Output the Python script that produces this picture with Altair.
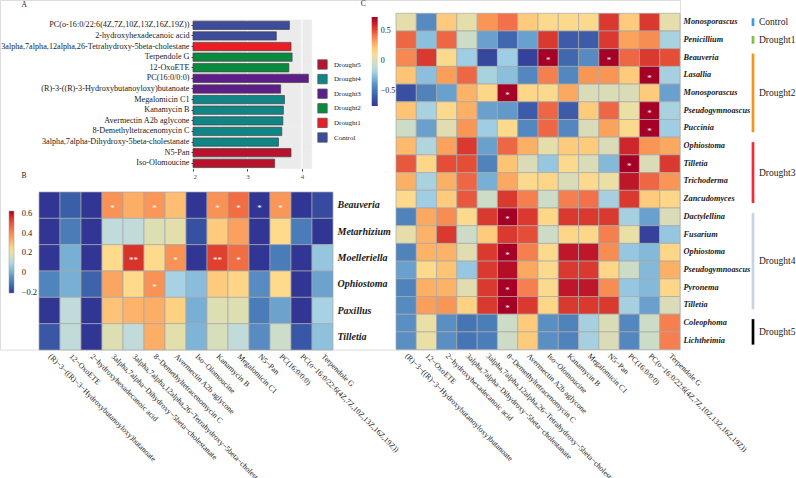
import json
import altair as alt
import pandas as pd

FONT = "Liberation Serif"

# ---------------- Panel A : LDA scores ----------------
a_features = [
    "PC(o-16:0/22:6(4Z,7Z,10Z,13Z,16Z,19Z))",
    "2-hydroxyhexadecanoic acid",
    "3alpha,7alpha,12alpha,26-Tetrahydroxy-5beta-cholestane",
    "Terpendole G",
    "12-OxoETE",
    "PC(16:0/0:0)",
    "(R)-3-((R)-3-Hydroxybutanoyloxy)butanoate",
    "Megalomicin C1",
    "Kanamycin B",
    "Avermectin A2b aglycone",
    "8-Demethyltetracenomycin C",
    "3alpha,7alpha-Dihydroxy-5beta-cholestanate",
    "N5-Pan",
    "Iso-Olomoucine",
]
a_lda = [3.77, 3.53, 3.80, 3.82, 3.76, 4.12, 3.61, 3.68, 3.66, 3.65, 3.63, 3.57, 3.80, 3.50]
a_group = ["Control", "Control", "Drought1", "Drought2", "Drought2", "Drought3", "Drought3",
           "Drought4", "Drought4", "Drought4", "Drought4", "Drought4", "Drought5", "Drought5"]
a_legend_groups = ["Drought5", "Drought4", "Drought3", "Drought2", "Drought1", "Control"]
a_legend_colors = ["#B8122E", "#0F8585", "#5E1E87", "#0A8A3F", "#EE1C25", "#3C4C9A"]
a_ticks = [2, 3, 4]
a_major_grid = [3, 4]
a_minor_grid = [2.5, 3.5]
a_domain = [2.0, 4.18]

# ---------------- metabolites (heatmap columns) ----------------
metabolites = [
    "(R)-3-((R)-3-Hydroxybutanoyloxy)butanoate",
    "12-OxoETE",
    "2-hydroxyhexadecanoic acid",
    "3alpha,7alpha-Dihydroxy-5beta-cholestanate",
    "3alpha,7alpha,12alpha,26-Tetrahydroxy-5beta-cholestane",
    "8-Demethyltetracenomycin C",
    "Avermectin A2b aglycone",
    "Iso-Olomoucine",
    "Kanamycin B",
    "Megalomicin C1",
    "N5-Pan",
    "PC(16:0/0:0)",
    "PC(o-16:0/22:6(4Z,7Z,10Z,13Z,16Z,19Z))",
    "Terpendole G",
]

# ---------------- Panel B ----------------
b_genera = ["Beauveria", "Metarhizium", "Moelleriella", "Ophiostoma", "Paxillus", "Tilletia"]
b_beauveria = [-0.21, -0.15, -0.21, 0.38, 0.32, 0.37, 0.29, -0.21, 0.38, 0.45, -0.21, 0.37, -0.21, -0.18]
b_metarhizium = [-0.21, -0.10, -0.21, 0.12, 0.12, 0.17, 0.18, -0.17, 0.27, 0.35, -0.21, 0.24, -0.10, -0.21]
b_moelleriella = [-0.21, 0.00, -0.21, 0.24, 0.55, 0.24, 0.38, -0.21, 0.53, 0.45, -0.21, -0.10, -0.21, 0.05]
b_ophiostoma = [-0.08, 0.00, -0.14, 0.34, 0.24, 0.38, 0.08, 0.03, 0.27, 0.25, -0.06, 0.24, -0.21, -0.02]
b_paxillus = [-0.21, 0.12, -0.21, 0.28, 0.31, 0.32, 0.26, 0.00, 0.17, 0.17, -0.10, -0.02, -0.21, 0.08]
b_tilletia = [-0.16, 0.12, -0.21, 0.17, 0.12, 0.32, 0.18, 0.01, 0.16, 0.12, -0.06, 0.14, -0.16, 0.04]
b_stars = [("Beauveria", 3, "*"), ("Beauveria", 5, "*"), ("Beauveria", 8, "*"), ("Beauveria", 9, "*"),
           ("Beauveria", 10, "*"), ("Beauveria", 11, "*"),
           ("Moelleriella", 4, "**"), ("Moelleriella", 6, "*"), ("Moelleriella", 8, "**"),
           ("Moelleriella", 9, "*"), ("Ophiostoma", 5, "*")]
b_dom = [-0.21, -0.15, -0.1, -0.05, 0.0, 0.05, 0.09, 0.13, 0.18, 0.24, 0.31, 0.38, 0.46, 0.54, 0.62]
b_rng = ["#313695", "#3a5ea8", "#4a7cb9", "#5a8fc4", "#78b0d5", "#95c5df", "#add6e6", "#c6dcd4",
         "#e3dfaa", "#fedb8c", "#fdb36a", "#f99255", "#f06943", "#dd3b2b", "#a50026"]
b_legend_values = [-0.2, 0, 0.2, 0.4, 0.6]

# ---------------- Panel C ----------------
c_genera = ["Monosporascus", "Penicillium", "Beauveria", "Lasallia", "Monosporascus", "Pseudogymnoascus",
            "Puccinia", "Ophiostoma", "Tilletia", "Trichoderma", "Zancudomyces", "Dactylellina", "Fusarium",
            "Ophiostoma", "Pseudogymnoascus", "Pyronema", "Tilletia", "Coleophoma", "Lichtheimia"]
c_r01 = [0.05, -0.42, 0.20, 0.05, 0.35, 0.43, 0.20, 0.15, 0.15, 0.15, 0.55, 0.20, 0.55, 0.05]
c_r02 = [0.45, -0.25, 0.45, -0.05, -0.35, -0.55, -0.35, 0.55, -0.60, -0.60, 0.55, 0.32, 0.37, -0.17]
c_r03 = [0.38, 0.55, 0.15, -0.20, -0.68, -0.20, -0.70, 0.73, -0.55, -0.42, 0.73, 0.45, 0.55, 0.50]
c_r04 = [0.22, -0.25, 0.33, 0.45, -0.17, -0.25, -0.43, 0.40, -0.43, 0.35, 0.35, 0.20, 0.73, -0.18]
c_r05 = [-0.65, -0.45, -0.35, 0.27, 0.17, 0.73, 0.17, 0.15, 0.30, 0.00, 0.00, 0.00, 0.20, -0.35]
c_r06 = [0.22, -0.17, 0.15, 0.28, -0.35, -0.37, -0.60, 0.45, -0.60, 0.20, 0.45, 0.07, 0.73, -0.17]
c_r07 = [-0.05, -0.35, 0.03, 0.35, -0.20, 0.15, -0.43, 0.45, -0.43, 0.00, 0.32, 0.15, 0.73, -0.20]
c_r08 = [0.25, -0.15, 0.32, 0.55, -0.35, 0.45, 0.28, 0.05, 0.20, 0.20, 0.00, 0.60, 0.35, 0.30]
c_r09 = [0.48, 0.17, 0.50, 0.50, -0.45, 0.22, 0.00, -0.22, 0.15, 0.00, -0.27, 0.73, 0.00, 0.55]
c_r10 = [0.28, -0.17, 0.28, 0.45, -0.30, 0.30, 0.15, 0.17, 0.00, 0.15, 0.07, 0.65, 0.45, 0.35]
c_r11 = [0.15, -0.20, 0.20, 0.48, -0.05, 0.55, 0.40, -0.05, 0.40, 0.43, -0.18, 0.55, 0.20, 0.17]
c_r12 = [-0.45, 0.30, 0.37, 0.15, 0.55, 0.73, 0.55, 0.17, 0.55, 0.55, 0.55, -0.18, -0.35, 0.00]
c_r13 = [0.05, 0.27, 0.55, -0.05, 0.20, 0.55, 0.50, -0.05, 0.17, 0.17, 0.40, 0.07, -0.70, -0.22]
c_r14 = [-0.45, 0.27, 0.27, 0.03, 0.55, 0.73, 0.40, 0.15, 0.65, 0.65, 0.37, -0.22, -0.27, 0.17]
c_r15 = [-0.35, 0.15, 0.22, -0.22, 0.55, 0.68, 0.30, 0.15, 0.55, 0.55, 0.17, -0.05, -0.27, 0.28]
c_r16 = [-0.45, 0.28, 0.27, 0.03, 0.55, 0.73, 0.40, 0.15, 0.65, 0.65, 0.37, -0.22, -0.27, 0.17]
c_r17 = [-0.42, 0.33, 0.35, 0.18, 0.55, 0.73, 0.55, 0.17, 0.55, 0.55, 0.55, -0.18, -0.35, 0.00]
c_r18 = [-0.40, 0.07, -0.40, -0.50, -0.47, -0.05, 0.20, -0.40, -0.45, -0.18, 0.00, -0.43, -0.05, 0.40]
c_r19 = [-0.40, 0.07, -0.40, -0.50, -0.47, -0.05, 0.20, -0.40, -0.45, -0.18, 0.00, -0.43, -0.05, 0.40]
c_stars = [(2, 7), (2, 10), (3, 12), (4, 5), (5, 12), (6, 12), (8, 11), (11, 5), (13, 5), (15, 5), (16, 5)]
c_groups = ["Control", "Drought1", "Drought2", "Drought3", "Drought4", "Drought5"]
c_group_first = [0, 1, 2, 7, 11, 17]
c_group_last = [0, 1, 6, 10, 16, 18]
c_group_colors = ["#3D9BE9", "#7DC142", "#F7941D", "#EE2A3B", "#C5D3E3", "#000000"]
c_dom = [-0.75, -0.62, -0.5, -0.4, -0.3, -0.2, -0.1, 0.0, 0.08, 0.16, 0.25, 0.34, 0.43, 0.52, 0.62, 0.73]
c_rng = ["#313695", "#3b56a5", "#4575b4", "#5a8fc4", "#78b0d5", "#9fcde3", "#c0dcd6", "#dadcb8",
         "#ecdfa2", "#fed98a", "#fdba6c", "#fa9b58", "#f2714a", "#e04430", "#c8202a", "#a50026"]
c_legend_values = [-0.5, 0, 0.5]

panel_letters = ["A", "B", "C"]

# ---------------- layout (page pixels; view origin = page origin) ----------------
W_PAGE, H_PAGE = 796, 478
VIEW_W, VIEW_H = 680, 349.6

A_XR = [193, 311.7]
A_YR = [20, 168.6]
B_XR = [39, 333]
B_YR = [192, 350]
C_XR = [396, 680]
C_YR = [13.3, 349.6]
LETTER_POS = [(24.3, 4.7), (24, 175.7), (363.3, 3.5)]

met_disp = [m.replace("-", "\u2212") for m in metabolites]

# ---------------- Panel A ----------------
a_df = pd.DataFrame({"feature": a_features, "lda": a_lda, "group": a_group,
                     "lo": a_domain[0], "hi": a_domain[1]})
grid_df = pd.DataFrame({"g": a_major_grid + a_minor_grid,
                        "w": [1.1] * len(a_major_grid) + [0.5] * len(a_minor_grid),
                        "first": a_features[0], "last": a_features[-1]})
xs_a = alt.Scale(domain=a_domain, range=A_XR, nice=False, zero=False)
ys_a = alt.Scale(domain=a_features, range=A_YR, paddingInner=0, paddingOuter=0)
y_axis_a = alt.Axis(title=None, orient="left", offset=-A_XR[0], labelFont=FONT, labelFontSize=8.2,
                    labelColor="#1a1a1a", domain=False, tickSize=2, tickColor="#444444",
                    labelPadding=2, labelLimit=0)
x_axis_a = alt.Axis(title=None, orient="bottom", offset=A_YR[1] - VIEW_H, values=a_ticks, grid=False,
                    domain=False, tickSize=2.5, tickColor="#444444", labelFont=FONT, labelFontSize=7,
                    labelColor="#4d4d4d", labelPadding=1, format="d")
bg = alt.Chart(a_df).mark_rect(color="#EBEBEB", stroke="#EBEBEB", strokeWidth=0.6).encode(
    x=alt.X("lo:Q", scale=xs_a, axis=x_axis_a),
    x2="hi:Q",
    y=alt.Y("feature:N", sort=a_features, scale=ys_a, axis=y_axis_a),
)
grid = alt.Chart(grid_df).mark_rule(color="white").encode(
    x=alt.X("g:Q", scale=xs_a, axis=x_axis_a),
    y=alt.Y("first:N", sort=a_features, scale=ys_a, bandPosition=0, axis=y_axis_a),
    y2=alt.Y2("last", bandPosition=1),
    strokeWidth=alt.StrokeWidth("w:Q", scale=None),
)
bars = alt.Chart(a_df).mark_bar(height=alt.RelativeBandSize(band=0.78), stroke="#444444",
                                strokeWidth=0.7).encode(
    x=alt.X("lda:Q", scale=xs_a, axis=x_axis_a),
    x2="lo:Q",
    y=alt.Y("feature:N", sort=a_features, scale=ys_a, axis=y_axis_a),
    color=alt.Color("group:N", scale=alt.Scale(domain=a_legend_groups, range=a_legend_colors),
                    legend=alt.Legend(title=None, orient="none", legendX=317, legendY=59,
                                      symbolType="square", symbolSize=88, symbolStrokeColor="#555555",
                                      symbolStrokeWidth=0.8, labelFont=FONT, labelFontSize=7,
                                      labelColor="#1a1a1a", rowPadding=1.6, labelOffset=6, padding=0)),
)
layer_a = alt.layer(bg, grid, bars)

# ---------------- Panel B ----------------
b_rows = [b_beauveria, b_metarhizium, b_moelleriella, b_ophiostoma, b_paxillus, b_tilletia]
b_recs = []
for g, vals in zip(b_genera, b_rows):
    for j, v in enumerate(vals):
        b_recs.append({"genus": g, "met": met_disp[j], "value": v})
b_df = pd.DataFrame(b_recs)
b_star_df = pd.DataFrame([{"genus": g, "met": met_disp[j], "star": s} for g, j, s in b_stars])

def x_axis_heat(offset):
    return alt.Axis(title=None, orient="bottom", offset=offset, labelAngle=45, labelAlign="left",
                    labelBaseline="middle", labelFont=FONT, labelFontSize=7.8, labelColor="#1a1a1a",
                    ticks=False, domain=False, labelPadding=5, labelLimit=0)

xb = alt.X("met:N", sort=met_disp,
           scale=alt.Scale(domain=met_disp, range=B_XR, paddingInner=0, paddingOuter=0),
           axis=x_axis_heat(B_YR[1] - VIEW_H))
yb = alt.Y("genus:N", sort=b_genera,
           scale=alt.Scale(domain=b_genera, range=B_YR, paddingInner=0, paddingOuter=0),
           axis=alt.Axis(title=None, orient="right", offset=B_XR[1] - VIEW_W, labelFont=FONT,
                         labelFontStyle="italic", labelFontWeight="bold", labelFontSize=10,
                         labelColor="#1a1a1a", ticks=False, domain=False, labelPadding=4))
heat_b = alt.Chart(b_df).mark_rect(stroke="#a8a8a8", strokeWidth=0.7).encode(
    x=xb, y=yb,
    color=alt.Color("value:Q",
                    scale=alt.Scale(domain=b_dom, range=b_rng, interpolate="rgb"),
                    legend=alt.Legend(title=None, orient="none", legendX=9, legendY=211,
                                      direction="vertical", gradientLength=82, gradientThickness=5,
                                      values=b_legend_values, format=".1~f", labelFont=FONT,
                                      labelFontSize=8.5, labelColor="#1a1a1a", labelOffset=7.7,
                                      padding=0, gradientStrokeColor="#999999",
                                      gradientStrokeWidth=0.5)),
)
stars_b = alt.Chart(b_star_df).mark_text(color="white", font=FONT, fontSize=9, baseline="middle",
                                         dy=2.5).encode(x=xb, y=yb, text="star:N")
layer_b = alt.layer(heat_b, stars_b)

# ---------------- Panel C ----------------
c_rows = [c_r01, c_r02, c_r03, c_r04, c_r05, c_r06, c_r07, c_r08, c_r09, c_r10,
          c_r11, c_r12, c_r13, c_r14, c_r15, c_r16, c_r17, c_r18, c_r19]
c_recs = []
for i, vals in enumerate(c_rows):
    for j, v in enumerate(vals):
        c_recs.append({"row": i, "met": met_disp[j], "value": v})
c_df = pd.DataFrame(c_recs)
c_star_df = pd.DataFrame([{"row": i, "met": met_disp[j], "star": "*"} for i, j in c_stars])

xc = alt.X("met:N", sort=met_disp,
           scale=alt.Scale(domain=met_disp, range=C_XR, paddingInner=0, paddingOuter=0),
           axis=x_axis_heat(C_YR[1] - VIEW_H))
ys_c = alt.Scale(domain=list(range(len(c_genera))), range=C_YR, paddingInner=0, paddingOuter=0)
y_axis_c = alt.Axis(title=None, orient="right", offset=C_XR[1] - VIEW_W,
                    labelExpr=json.dumps(c_genera) + "[datum.value]",
                    labelFont=FONT, labelFontStyle="italic", labelFontWeight="bold",
                    labelFontSize=8.3, labelColor="#1a1a1a", ticks=False, domain=False, labelPadding=3)
yc = alt.Y("row:O", scale=ys_c, axis=y_axis_c)
heat_c = alt.Chart(c_df).mark_rect(stroke="#a8a8a8", strokeWidth=0.7).encode(
    x=xc, y=yc,
    color=alt.Color("value:Q",
                    scale=alt.Scale(domain=c_dom, range=c_rng, interpolate="rgb"),
                    legend=alt.Legend(title=None, orient="none", legendX=371.7, legendY=17,
                                      direction="vertical", gradientLength=89, gradientThickness=6,
                                      values=c_legend_values, format=".1~f", labelFont=FONT,
                                      labelFontSize=8, labelColor="#1a1a1a", labelOffset=3,
                                      padding=0, gradientStrokeWidth=0)),
)
stars_c = alt.Chart(c_star_df).mark_text(color="white", font=FONT, fontSize=9, baseline="middle",
                                         dy=2.5).encode(x=xc, y=yc, text="star:N")

g_df = pd.DataFrame({"group": c_groups, "first": c_group_first, "last": c_group_last,
                     "gcolor": c_group_colors})
g_df["n"] = g_df["last"] - g_df["first"] + 1
g_df["mid"] = [f + (n - 1) // 2 if n % 2 == 1 else f + n // 2 - 1 for f, n in zip(g_df["first"], g_df["n"])]

group_bars = alt.Chart(g_df).mark_rule(strokeWidth=2.7).encode(
    x=alt.value(753),
    y=alt.Y("first:O", scale=ys_c, axis=y_axis_c, bandPosition=0.28),
    y2=alt.Y2("last", bandPosition=0.72),
    stroke=alt.Stroke("gcolor:N", scale=None),
)
glab_odd = alt.Chart(g_df).transform_filter("datum.n % 2 == 1").mark_text(
    align="left", baseline="middle", font=FONT, fontSize=9.5, color="#1a1a1a").encode(
    x=alt.value(759), y=alt.Y("mid:O", scale=ys_c, axis=y_axis_c, bandPosition=0.5), text="group:N")
glab_even = alt.Chart(g_df).transform_filter("datum.n % 2 == 0").mark_text(
    align="left", baseline="middle", font=FONT, fontSize=9.5, color="#1a1a1a").encode(
    x=alt.value(759), y=alt.Y("mid:O", scale=ys_c, axis=y_axis_c, bandPosition=1.0), text="group:N")
layer_c = alt.layer(heat_c, stars_c, group_bars, glab_odd, glab_even)

# ---------------- panel letters ----------------
letter_layers = []
for letter, (lx, ly) in zip(panel_letters, LETTER_POS):
    letter_layers.append(
        alt.Chart(pd.DataFrame({"t": [letter]})).mark_text(
            font=FONT, fontSize=7.5, color="#1a1a1a", baseline="middle", align="center").encode(
            x=alt.value(lx), y=alt.value(ly), text="t:N"))

# ---------------- assemble ----------------
chart = alt.layer(layer_a, layer_b, layer_c, *letter_layers).resolve_scale(
    x="independent", y="independent", color="independent", stroke="independent",
    strokeWidth="independent",
).resolve_axis(x="independent", y="independent").resolve_legend(color="independent").properties(
    width=VIEW_W, height=VIEW_H,
    padding={"left": 0, "top": 0, "right": W_PAGE - VIEW_W, "bottom": H_PAGE - VIEW_H},
    autosize=alt.AutoSizeParams(type="none"),
).configure_view(stroke="transparent", strokeWidth=0).configure(background="white")

chart.save("out.html", embed_options={"renderer": "svg", "actions": False})
